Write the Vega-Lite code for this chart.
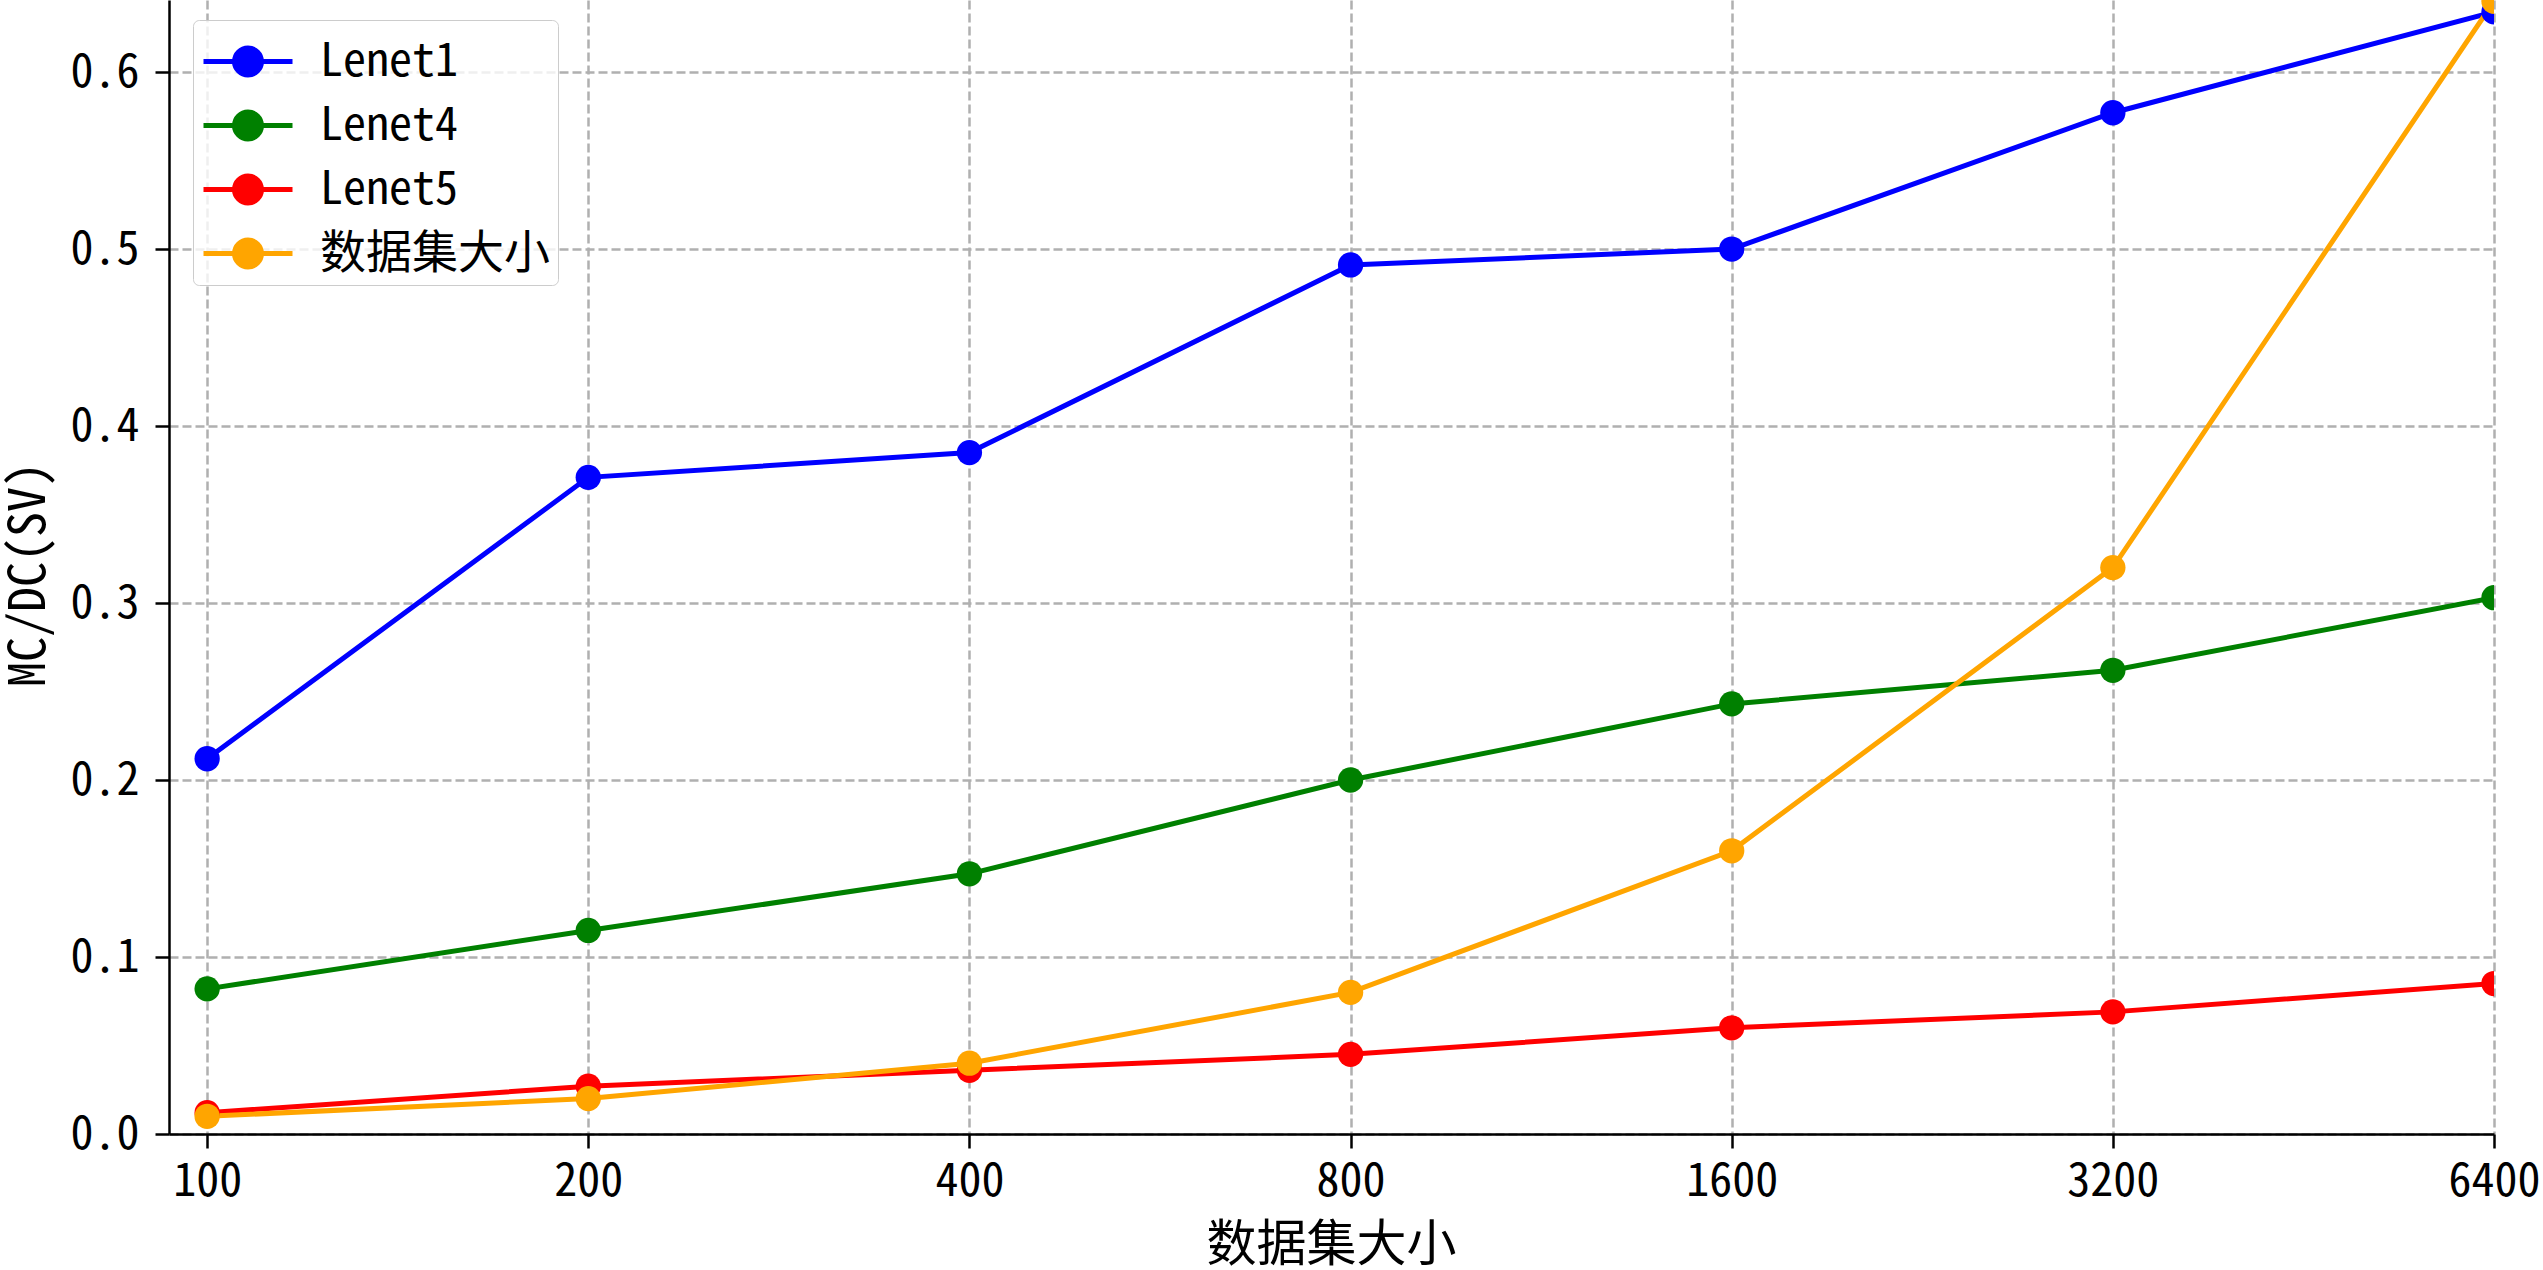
{
  "$schema": "https://vega.github.io/schema/vega-lite/v6.json",
  "width": 2325,
  "height": 1134,
  "autosize": {"type": "none"},
  "padding": {"left": 169, "top": 0, "right": 49, "bottom": 136},
  "background": "white",
  "config": {
    "view": {"stroke": null},
    "font": "Noto Sans Mono CJK SC, Noto Sans CJK SC, sans-serif"
  },
  "data": {
    "values": [
      {"series": "Lenet1", "size": 100, "v": 0.212},
      {"series": "Lenet1", "size": 200, "v": 0.371},
      {"series": "Lenet1", "size": 400, "v": 0.385},
      {"series": "Lenet1", "size": 800, "v": 0.491},
      {"series": "Lenet1", "size": 1600, "v": 0.500},
      {"series": "Lenet1", "size": 3200, "v": 0.577},
      {"series": "Lenet1", "size": 6400, "v": 0.634},
      {"series": "Lenet4", "size": 100, "v": 0.082},
      {"series": "Lenet4", "size": 200, "v": 0.115},
      {"series": "Lenet4", "size": 400, "v": 0.147},
      {"series": "Lenet4", "size": 800, "v": 0.200},
      {"series": "Lenet4", "size": 1600, "v": 0.243},
      {"series": "Lenet4", "size": 3200, "v": 0.262},
      {"series": "Lenet4", "size": 6400, "v": 0.303},
      {"series": "Lenet5", "size": 100, "v": 0.012},
      {"series": "Lenet5", "size": 200, "v": 0.027},
      {"series": "Lenet5", "size": 400, "v": 0.036},
      {"series": "Lenet5", "size": 800, "v": 0.045},
      {"series": "Lenet5", "size": 1600, "v": 0.060},
      {"series": "Lenet5", "size": 3200, "v": 0.069},
      {"series": "Lenet5", "size": 6400, "v": 0.085},
      {"series": "数据集大小", "size": 100, "v": 0.01},
      {"series": "数据集大小", "size": 200, "v": 0.02},
      {"series": "数据集大小", "size": 400, "v": 0.04},
      {"series": "数据集大小", "size": 800, "v": 0.08},
      {"series": "数据集大小", "size": 1600, "v": 0.16},
      {"series": "数据集大小", "size": 3200, "v": 0.32},
      {"series": "数据集大小", "size": 6400, "v": 0.64}
    ]
  },
  "encoding": {
    "x": {
      "field": "size",
      "type": "quantitative",
      "scale": {"type": "log", "base": 2, "domain": [93.3, 6400], "nice": false, "zero": false},
      "axis": {
        "values": [100, 200, 400, 800, 1600, 3200, 6400],
        "format": "d",
        "title": "数据集大小",
        "titleFontSize": 50,
        "titleFontWeight": "normal",
        "titleColor": "black",
        "titleX": 1162,
        "titleY": 86,
        "titleBaseline": "top",
        "titleAlign": "center",
        "labelFontSize": 46,
        "labelColor": "black",
        "labelPadding": 11,
        "labelFlush": false,
        "labelOverlap": false,
        "tickSize": 14,
        "tickWidth": 2.5,
        "tickColor": "black",
        "domainColor": "black",
        "domainWidth": 2.5,
        "grid": true,
        "gridColor": "#b0b0b0",
        "gridDash": [9, 4],
        "gridWidth": 2.5
      }
    },
    "y": {
      "field": "v",
      "type": "quantitative",
      "scale": {"domain": [0, 0.6407], "nice": false, "zero": true},
      "axis": {
        "values": [0, 0.1, 0.2, 0.3, 0.4, 0.5, 0.6],
        "format": ".1f",
        "title": "MC/DC(SV)",
        "titleFontSize": 50,
        "titleFontWeight": "normal",
        "titleColor": "black",
        "titleX": -140,
        "titleY": 574,
        "titleAngle": -90,
        "titleBaseline": "middle",
        "titleAlign": "center",
        "labelFontSize": 46,
        "labelColor": "black",
        "labelPadding": 16,
        "labelFlush": false,
        "labelOverlap": false,
        "tickSize": 14,
        "tickWidth": 2.5,
        "tickColor": "black",
        "domainColor": "black",
        "domainWidth": 2.5,
        "grid": true,
        "gridColor": "#b0b0b0",
        "gridDash": [9, 4],
        "gridWidth": 2.5
      }
    },
    "color": {
      "field": "series",
      "type": "nominal",
      "sort": null,
      "scale": {
        "domain": ["Lenet1", "Lenet4", "Lenet5", "数据集大小"],
        "range": ["#0000ff", "#008000", "#ff0000", "#ffa500"]
      },
      "legend": {
        "title": null,
        "orient": "none",
        "legendX": 24,
        "legendY": 20,
        "padding": 8,
        "fillColor": "rgba(255,255,255,0.8)",
        "strokeColor": "#cccccc",
        "cornerRadius": 6,
        "rowPadding": 7,
        "labelFontSize": 46,
        "labelColor": "black",
        "labelOffset": 52,
        "labelLimit": 600,
        "symbolSize": 3844,
        "symbolStrokeWidth": 5,
        "symbolOpacity": 1,
        "symbolType": "M-1,0L1.871,0M0,0A0.435,0.435,0,1,1,0.87,0A0.435,0.435,0,1,1,0,0Z"
      }
    }
  },
  "layer": [
    {
      "mark": {"type": "line", "strokeWidth": 5, "clip": true}
    },
    {
      "mark": {"type": "point", "shape": "circle", "filled": true, "opacity": 1, "size": 640, "clip": true}
    }
  ]
}
